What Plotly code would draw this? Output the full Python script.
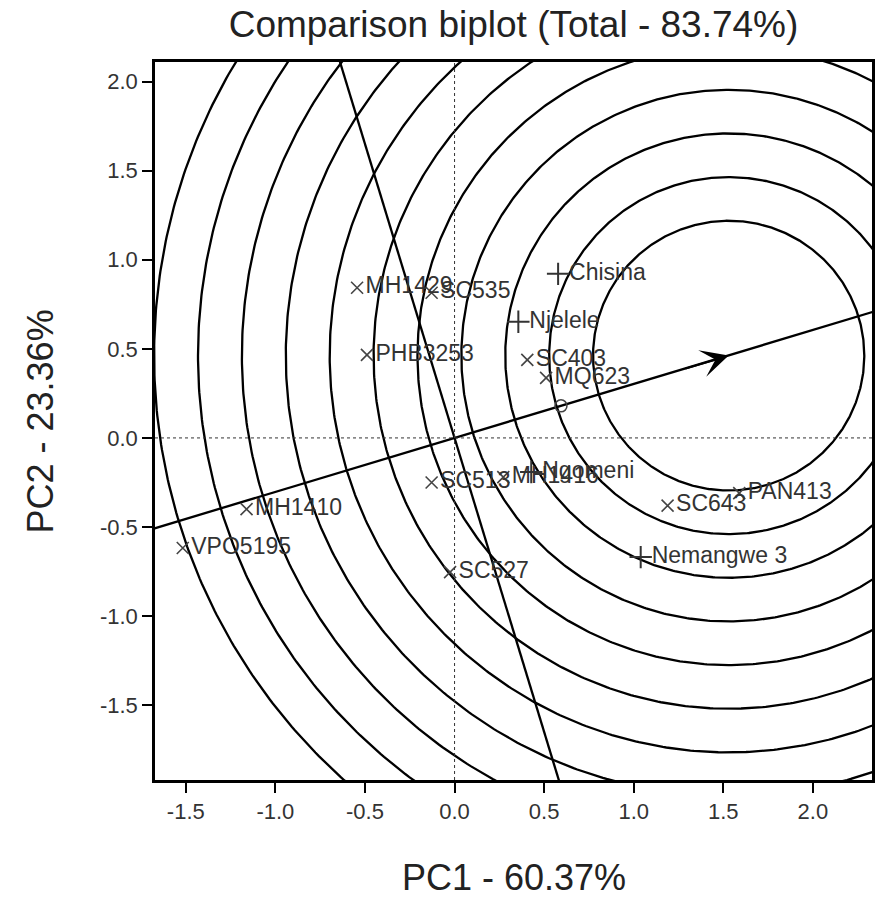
import numpy as np
import plotly.graph_objects as go

# ---- data ----
genotype_names = ["MH1429", "SC535", "PHB3253", "SC403", "MQ623", "MH1416",
                  "SC513", "MH1410", "VPO5195", "SC527", "SC643", "PAN413"]
genotype_pc1 = [-0.544, -0.128, -0.489, 0.406, 0.511, 0.272,
                -0.128, -1.161, -1.517, -0.025, 1.189, 1.589]
genotype_pc2 = [0.843, 0.815, 0.466, 0.438, 0.337, -0.22,
                -0.25, -0.40, -0.618, -0.753, -0.38, -0.31]

env_names = ["Chisina", "Njelele", "Ngomeni", "Nemangwe 3"]
env_pc1 = [0.578, 0.356, 0.428, 1.039]
env_pc2 = [0.921, 0.652, -0.191, -0.669]

avg_env = [0.594, 0.18]          # average environment (small circle)
ideal = [1.53, 0.462]            # ideal genotype (centre of rings, arrow tip)
ring_inner = 0.757               # radius of innermost ring
ring_step = 0.245                # spacing between rings
ring_count = 11

x_range = [-1.672, 2.33]
y_range = [-1.92, 2.11]
tick_vals = [-1.5, -1.0, -0.5, 0.0, 0.5, 1.0, 1.5, 2.0]

FONT = "Liberation Sans, Arial, Helvetica, sans-serif"

fig = go.Figure()

# concentric rings around the ideal genotype
theta = np.linspace(0, 2 * np.pi, 721)
for k in range(ring_count):
    r = ring_inner + ring_step * k
    fig.add_trace(go.Scatter(x=ideal[0] + r * np.cos(theta),
                             y=ideal[1] + r * np.sin(theta),
                             mode="lines", line=dict(color="black", width=2.3),
                             hoverinfo="skip", showlegend=False))

# average-environment axis and its perpendicular through the origin
slope = avg_env[1] / avg_env[0]
t = np.array([-10.0, 10.0])
fig.add_trace(go.Scatter(x=t, y=slope * t, mode="lines",
                         line=dict(color="black", width=2.3),
                         hoverinfo="skip", showlegend=False))
fig.add_trace(go.Scatter(x=t, y=-t / slope, mode="lines",
                         line=dict(color="black", width=2.3),
                         hoverinfo="skip", showlegend=False))

# genotypes (x markers)
fig.add_trace(go.Scatter(x=genotype_pc1, y=genotype_pc2, mode="markers+text",
                         text=genotype_names, textposition="middle right",
                         textfont=dict(family=FONT, size=23, color="#333333"),
                         marker=dict(symbol="x-thin", size=12, color="#444444",
                                     line=dict(color="#444444", width=1.6)),
                         hoverinfo="skip", showlegend=False, cliponaxis=False))

# environments (+ markers)
fig.add_trace(go.Scatter(x=env_pc1, y=env_pc2, mode="markers+text",
                         text=env_names, textposition="middle right",
                         textfont=dict(family=FONT, size=23, color="#333333"),
                         marker=dict(symbol="cross-thin", size=16, color="#333333",
                                     line=dict(color="#333333", width=2)),
                         hoverinfo="skip", showlegend=False, cliponaxis=False))

# average environment marker
fig.add_trace(go.Scatter(x=[avg_env[0]], y=[avg_env[1]], mode="markers",
                         marker=dict(symbol="circle-open", size=12, color="#444444",
                                     line=dict(color="#444444", width=1.5)),
                         hoverinfo="skip", showlegend=False))

# arrow head at the ideal genotype
fig.add_annotation(x=ideal[0], y=ideal[1], xref="x", yref="y",
                   ax=ideal[0] - 0.25, ay=ideal[1] - 0.25 * slope,
                   axref="x", ayref="y", showarrow=True, arrowhead=3,
                   arrowsize=2.3, arrowwidth=2, arrowcolor="black", text="")

# dashed zero lines
fig.add_shape(type="line", xref="x", yref="paper", x0=0, x1=0, y0=0, y1=1,
              line=dict(color="#333333", width=1, dash="dot"))
fig.add_shape(type="line", xref="paper", yref="y", x0=0, x1=1, y0=0, y1=0,
              line=dict(color="#333333", width=1, dash="dot"))

axis_common = dict(showline=True, linecolor="black", linewidth=2.5, mirror=True,
                   ticks="outside", ticklen=10, tickwidth=2, tickcolor="black",
                   showgrid=False, zeroline=False, tickvals=tick_vals,
                   ticktext=[f"{v:.1f}" for v in tick_vals],
                   tickfont=dict(family=FONT, size=22, color="#333333"))

W, H = 887, 902
fig.update_layout(
    width=W, height=H,
    margin=dict(l=155, r=12, t=62, b=122),
    plot_bgcolor="white", paper_bgcolor="white",
    hovermode=False,
    xaxis=dict(range=x_range, **axis_common),
    yaxis=dict(range=y_range, **axis_common),
    title=dict(text="Comparison biplot (Total - 83.74%)", x=0.5, xref="paper",
               y=1 - 24 / H, yref="container", yanchor="middle", xanchor="center",
               font=dict(family=FONT, size=37, color="#222222")),
)

fig.add_annotation(text="PC1 - 60.37%", xref="paper", yref="paper",
                   x=0.5, y=-97 / 718, xanchor="center", yanchor="middle",
                   showarrow=False, font=dict(family=FONT, size=36, color="#222222"))
fig.add_annotation(text="PC2 - 23.36%", xref="paper", yref="paper",
                   x=-115 / 720, y=0.5, xanchor="center", yanchor="middle",
                   textangle=-90, showarrow=False,
                   font=dict(family=FONT, size=36, color="#222222"))

# remove the default page margin so the 887x902 figure fills the window exactly
fig.write_html("out.html",
               config={"displayModeBar": False},
               post_script="document.body.style.margin='0';document.body.style.overflow='hidden';")
